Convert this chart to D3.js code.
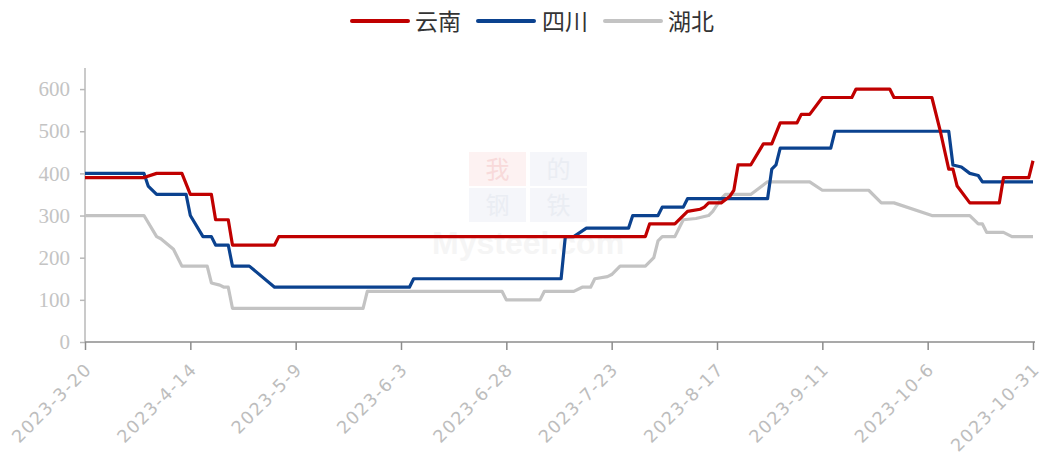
<!DOCTYPE html>
<html>
<head>
<meta charset="utf-8">
<script src="https://cdn.jsdelivr.net/npm/d3@7"></script>
<style>
  html, body { margin: 0; padding: 0; background: #fff; }
  svg { display: block; }
</style>
</head>
<body>
<svg id="chart" width="1043" height="462"></svg>
<script>
// ---------------- DATA ----------------
const seriesNames = ["云南", "四川", "湖北"];
const seriesColors = ["#c00000", "#0b428f", "#c3c3c3"];

const yunnanDates = ["2023-3-20","2023-4-3","2023-4-6","2023-4-12","2023-4-14","2023-4-19","2023-4-20","2023-4-23","2023-4-24","2023-5-4","2023-5-5","2023-7-31","2023-8-1","2023-8-7","2023-8-10","2023-8-13","2023-8-14","2023-8-15","2023-8-18","2023-8-20","2023-8-21","2023-8-22","2023-8-25","2023-8-28","2023-8-30","2023-9-1","2023-9-5","2023-9-6","2023-9-8","2023-9-11","2023-9-18","2023-9-19","2023-9-27","2023-9-28","2023-10-7","2023-10-9","2023-10-11","2023-10-12","2023-10-13","2023-10-16","2023-10-23","2023-10-24","2023-10-30","2023-10-31"];
const yunnanValues = [390,390,400,400,350,350,290,290,230,230,250,250,280,280,310,315,320,330,330,345,360,420,420,470,470,520,520,540,540,580,580,600,600,580,580,500,410,410,370,330,330,390,390,430];

const sichuanDates = ["2023-3-20","2023-4-3","2023-4-4","2023-4-6","2023-4-13","2023-4-14","2023-4-17","2023-4-19","2023-4-20","2023-4-23","2023-4-24","2023-4-28","2023-5-4","2023-6-5","2023-6-6","2023-7-11","2023-7-12","2023-7-14","2023-7-17","2023-7-27","2023-7-28","2023-8-3","2023-8-4","2023-8-9","2023-8-10","2023-8-29","2023-8-30","2023-8-31","2023-9-1","2023-9-13","2023-9-14","2023-10-11","2023-10-12","2023-10-14","2023-10-16","2023-10-18","2023-10-19","2023-10-31"];
const sichuanValues = [400,400,370,350,350,300,250,250,230,230,180,180,130,130,150,150,250,250,270,270,300,300,320,320,340,340,410,420,460,460,500,500,420,415,400,395,380,380];

const hubeiDates = ["2023-3-20","2023-4-3","2023-4-6","2023-4-7","2023-4-10","2023-4-12","2023-4-18","2023-4-19","2023-4-21","2023-4-22","2023-4-23","2023-4-24","2023-5-25","2023-5-26","2023-6-27","2023-6-28","2023-7-6","2023-7-7","2023-7-14","2023-7-16","2023-7-18","2023-7-19","2023-7-22","2023-7-23","2023-7-25","2023-7-31","2023-8-2","2023-8-3","2023-8-4","2023-8-7","2023-8-9","2023-8-12","2023-8-15","2023-8-16","2023-8-18","2023-8-19","2023-8-25","2023-8-29","2023-9-8","2023-9-11","2023-9-22","2023-9-25","2023-9-28","2023-10-7","2023-10-16","2023-10-18","2023-10-19","2023-10-20","2023-10-24","2023-10-26","2023-10-31"];
const hubeiValues = [300,300,250,245,220,180,180,140,135,130,130,80,80,120,120,100,100,120,120,130,130,150,155,160,180,180,200,240,250,250,290,293,300,310,340,350,350,380,380,360,360,330,330,300,300,280,280,260,260,250,250];

const xTickLabels = ["2023-3-20","2023-4-14","2023-5-9","2023-6-3","2023-6-28","2023-7-23","2023-8-17","2023-9-11","2023-10-6","2023-10-31"];
const yTickValues = [0,100,200,300,400,500,600];

// ---------------- CHART ----------------
(function () {
const parse = d3.timeParse("%Y-%m-%d");
const svg = d3.select("#chart");

const plotLeft = 85, plotRight = 1033, plotBottom = 342, plotTop = 68;
const x = d3.scaleTime()
  .domain([parse("2023-3-20"), parse("2023-10-31")])
  .range([plotLeft, plotRight]);
const y = d3.scaleLinear().domain([0, 650]).range([plotBottom, plotTop]);

// watermark (very faint)
const wm = svg.append("g").attr("class", "watermark");
const boxes = [
  {t:"我", bx:469, by:152, fill:"#fdf2f2", tc:"#f8dada"},
  {t:"的", bx:530, by:152, fill:"#f5f6fa", tc:"#eaedf3"},
  {t:"钢", bx:469, by:188, fill:"#f5f6fa", tc:"#eaedf3"},
  {t:"铁", bx:530, by:188, fill:"#f5f6fa", tc:"#eaedf3"}
];
boxes.forEach(b => {
  wm.append("rect").attr("x", b.bx).attr("y", b.by).attr("width", 57).attr("height", 34).attr("fill", b.fill);
  wm.append("text").attr("x", b.bx + 28.5).attr("y", b.by + 26)
    .attr("text-anchor", "middle").attr("font-family", "Noto Sans CJK SC")
    .attr("font-size", 24).attr("fill", b.tc).text(b.t);
});
wm.append("text").attr("x", 432).attr("y", 254).attr("font-family", "Liberation Sans")
  .attr("font-size", 32).attr("font-weight", "bold").attr("fill", "#f5f5f5").text("Mysteel.com");

// y axis
const yAxis = svg.append("g").attr("transform", `translate(${plotLeft},0)`)
  .call(d3.axisLeft(y).tickValues(yTickValues).tickSize(5).tickPadding(10));
yAxis.select(".domain").attr("stroke", "#b9b9b9").attr("stroke-width", 1.5)
  .attr("d", `M0,${plotTop}V${plotBottom}`);
yAxis.selectAll(".tick line").attr("stroke", "#b9b9b9").attr("stroke-width", 1.5);
yAxis.selectAll(".tick text").attr("fill", "#c4c4c4")
  .attr("font-family", "Liberation Serif").attr("font-size", 21);

// x axis
const tickDates = xTickLabels.map(parse);
const xAxis = svg.append("g").attr("transform", `translate(0,${plotBottom})`)
  .call(d3.axisBottom(x).tickValues(tickDates).tickSize(8)
    .tickFormat((d, i) => xTickLabels[i]));
xAxis.select(".domain").attr("stroke", "#8c8c8c").attr("stroke-width", 1.5)
  .attr("d", `M${plotLeft},0H${plotRight + 2}`);
xAxis.selectAll(".tick line").attr("stroke", "#8c8c8c").attr("stroke-width", 1.5);
xAxis.selectAll(".tick text")
  .attr("fill", "#bdbdbd").attr("font-family", "DejaVu Sans").attr("font-size", 17.5)
  .attr("letter-spacing", 1.5)
  .attr("text-anchor", "end").attr("dy", "0.35em").attr("y", 0)
  .attr("transform", "translate(3,24) rotate(-45)");

// lines
const line = d3.line().x(d => x(d[0])).y(d => y(d[1]));
const allSeries = [
  [yunnanDates, yunnanValues],
  [sichuanDates, sichuanValues],
  [hubeiDates, hubeiValues]
];
[2, 1, 0].forEach(i => {
  const [ds, vs] = allSeries[i];
  const pts = ds.map((d, k) => [parse(d), vs[k]]);
  svg.append("path").datum(pts).attr("d", line)
    .attr("fill", "none").attr("stroke", seriesColors[i])
    .attr("stroke-width", 3.2).attr("stroke-linejoin", "round");
});

// legend
const legendItems = [
  {lx:352, tx:415},
  {lx:478, tx:542},
  {lx:605, tx:668}
];
const lg = svg.append("g");
legendItems.forEach((it, i) => {
  lg.append("line").attr("x1", it.lx).attr("x2", it.lx + 56).attr("y1", 21).attr("y2", 21)
    .attr("stroke", seriesColors[i]).attr("stroke-width", 4).attr("stroke-linecap", "round");
  lg.append("text").attr("x", it.tx).attr("y", 29.5).attr("font-family", "Noto Sans CJK SC")
    .attr("font-size", 23).attr("fill", "#333").text(seriesNames[i]);
});
})();
</script>
</body>
</html>
